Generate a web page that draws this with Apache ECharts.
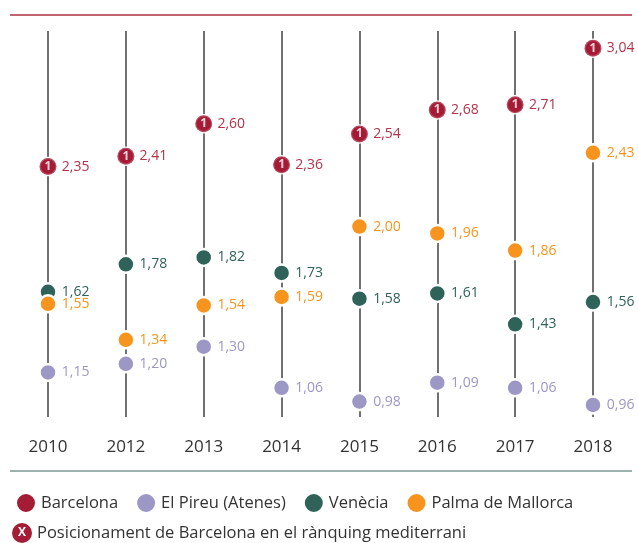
<!DOCTYPE html>
<html>
<head>
<meta charset="utf-8">
<script src="https://cdn.jsdelivr.net/npm/echarts@6/dist/echarts.min.js"></script>
<style>
  html, body { margin: 0; padding: 0; background: #fff; }
  #chart { width: 638px; height: 543px; }
</style>
</head>
<body>
<div id="chart"></div>
<script>
/* Rànquing de ports mediterranis — valors per any, Barcelona sempre 1a */
const years = ['2010', '2012', '2013', '2014', '2015', '2016', '2017', '2018'];
const barcelona = [2.35, 2.41, 2.60, 2.36, 2.54, 2.68, 2.71, 3.04];
const pireu     = [1.15, 1.20, 1.30, 1.06, 0.98, 1.09, 1.06, 0.96];
const venecia   = [1.62, 1.78, 1.82, 1.73, 1.58, 1.61, 1.43, 1.56];
const palma     = [1.55, 1.34, 1.54, 1.59, 2.00, 1.96, 1.86, 2.43];
const barcelonaRank = [1, 1, 1, 1, 1, 1, 1, 1];

const FONT = '"Open Sans", "Noto Sans", sans-serif';
const C = { bcn: '#a51c36', pireu: '#9c97c5', ven: '#2f6259', palma: '#f7941d' };
const fmt = (v) => v.toFixed(2).replace('.', ',');
const SIZE = 17;

// una sèrie de punts amb etiqueta a la dreta
const dots = (name, vals, color, labelColor) => ({
  name, type: 'scatter', data: vals,
  symbol: 'circle', symbolSize: SIZE,
  itemStyle: { color, borderColor: '#fff', borderWidth: 2.5, opacity: 1 },
  label: {
    show: true, position: 'right', distance: 4,
    formatter: (p) => fmt(p.value),
    color: labelColor || color, fontFamily: FONT, fontSize: 14
  },
  emphasis: { disabled: true },
  z: 3
});

const chart = echarts.init(document.getElementById('chart'), null, { renderer: 'canvas' });
chart.setOption({
  backgroundColor: '#fff',
  animation: false,
  textStyle: { fontFamily: FONT },
  grid: { left: 48, right: 45, top: 31, bottom: 126 },
  xAxis: {
    type: 'category', data: years, boundaryGap: false,
    axisLine: { show: false }, axisTick: { show: false },
    axisLabel: { color: '#333', fontSize: 17, margin: 22, fontFamily: FONT },
    splitLine: { show: true, lineStyle: { color: '#404040', width: 1.5 } }
  },
  yAxis: { type: 'value', min: 0.89, max: 3.14, show: false },
  legend: {
    left: 10, top: 487, itemWidth: 20, itemHeight: 20, itemGap: 17,
    icon: 'circle',
    textStyle: { color: '#333', fontSize: 16.5, fontFamily: FONT },
    data: ['Barcelona', 'El Pireu (Atenes)', 'Venècia', 'Palma de Mallorca'],
    selectedMode: false
  },
  series: [
    dots('El Pireu (Atenes)', pireu, C.pireu),
    dots('Venècia', venecia, C.ven),
    dots('Palma de Mallorca', palma, C.palma),
    dots('Barcelona', barcelona, C.bcn, '#b2334a'),
    {
      // número de posició dins del punt de Barcelona
      name: 'rank', type: 'scatter', silent: true,
      data: barcelona.map((v, i) => ({ value: v, rank: barcelonaRank[i] })),
      symbol: 'circle', symbolSize: SIZE,
      itemStyle: { color: C.bcn },
      label: {
        show: true, position: 'inside',
        formatter: (p) => String(p.data.rank),
        color: '#fff', fontSize: 12, fontWeight: 'bold', fontFamily: FONT
      },
      z: 4
    }
  ],
  graphic: [
    { type: 'line', shape: { x1: 10, y1: 15, x2: 632, y2: 15 }, style: { stroke: '#c2646f', lineWidth: 2 } },
    { type: 'line', shape: { x1: 10, y1: 471, x2: 632, y2: 471 }, style: { stroke: '#7a9995', lineWidth: 1.5 } },
    { type: 'circle', shape: { cx: 22, cy: 533, r: 10 }, style: { fill: C.bcn } },
    { type: 'text', x: 22, y: 533, style: { text: 'X', fill: '#fff', font: 'bold 12px ' + FONT, align: 'center', verticalAlign: 'middle' } },
    { type: 'text', x: 37, y: 533, style: { text: 'Posicionament de Barcelona en el rànquing mediterrani', fill: '#333', font: '16.5px ' + FONT, verticalAlign: 'middle' } }
  ]
});
</script>
</body>
</html>
